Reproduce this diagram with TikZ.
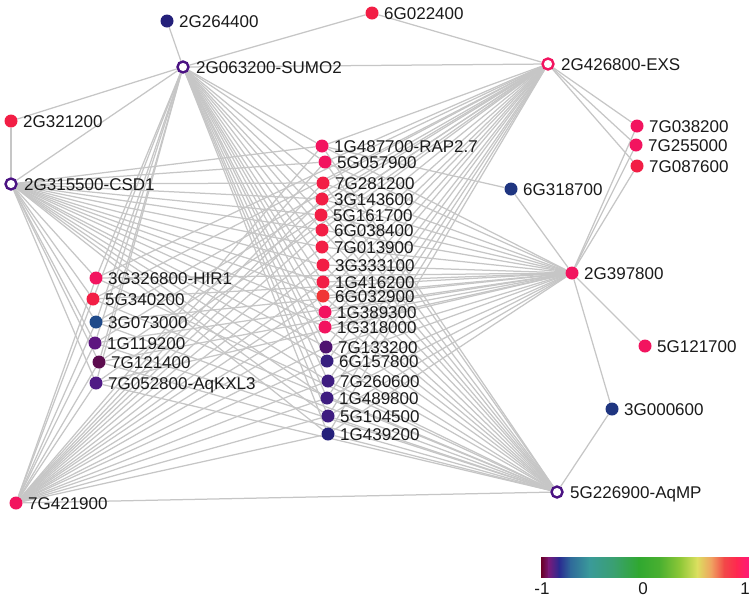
\documentclass[tikz,border=0pt]{standalone}
\usepackage{fontspec}
\setmainfont{Liberation Sans}
\usetikzlibrary{calc}
\pgfdeclarelayer{bg}
\pgfsetlayers{bg,main}
\definecolor{edgegray}{HTML}{C6C6C6}
\definecolor{txt}{HTML}{1A1A1A}
\definecolor{cred}{HTML}{F21E45}
\definecolor{cpink}{HTML}{F2145F}
\definecolor{corange}{HTML}{F03535}
\definecolor{cnavy}{HTML}{24207A}
\definecolor{cnavyb}{HTML}{1F3580}
\definecolor{cblue}{HTML}{1F4A8A}
\definecolor{cpurA}{HTML}{5E1680}
\definecolor{cmaroon}{HTML}{5C0C4E}
\definecolor{cpurB}{HTML}{501A85}
\definecolor{cpurC}{HTML}{4E1470}
\definecolor{cindA}{HTML}{361E7E}
\definecolor{cindB}{HTML}{3E1C80}
\definecolor{cring}{HTML}{4A1282}
% colour bar stops
\definecolor{cb0}{HTML}{6B0028}
\definecolor{cb1}{HTML}{7A1A7A}
\definecolor{cb2}{HTML}{2A2A90}
\definecolor{cb3}{HTML}{2F6A9A}
\definecolor{cb4}{HTML}{3A9A9A}
\definecolor{cb5}{HTML}{3AA070}
\definecolor{cb6}{HTML}{30A830}
\definecolor{cb7}{HTML}{4AB030}
\definecolor{cb8}{HTML}{90C838}
\definecolor{cb9}{HTML}{DCE060}
\definecolor{cb10}{HTML}{F0A060}
\definecolor{cb11}{HTML}{F24848}
\definecolor{cb12}{HTML}{FF2850}
\definecolor{cb13}{HTML}{FF1878}
\tikzset{
  edge/.style={draw=edgegray, line width=1.25pt},
  dot/.style={circle, fill=#1, minimum size=13pt, inner sep=0pt},
  ring/.style={circle, draw=#1, line width=2.4pt, fill=white, minimum size=11pt, inner sep=0pt},
  lab/.style={anchor=west, inner sep=0pt, text=txt, font=\fontsize{17}{17}\selectfont, text height=12.2pt, text depth=0pt},
  tick/.style={anchor=center, inner sep=0pt, text=txt, font=\fontsize{17}{17}\selectfont}
}
\newcommand{\gdot}[5]{\node[dot=#4] (#1) at (#2,#3) {}; \node[lab] (#1-t) at (#2+12,#3) {#5};}
\newcommand{\gring}[5]{\node[ring=#4] (#1) at (#2,#3) {}; \node[lab] (#1-t) at (#2+13,#3) {#5};}
\begin{document}
\begin{tikzpicture}[x=1pt,y=-1pt]
\useasboundingbox (0,0) rectangle (749,598);
% hubs
\gring{SUMO}{183}{67}{cring}{2G063200-SUMO2}
\gring{EXS}{548}{64}{cpink}{2G426800-EXS}
\gring{CSD}{11}{184}{cring}{2G315500-CSD1}
\gdot{nA397800}{572}{273}{cpink}{2G397800}
\gring{AQMP}{557}{492}{cring}{5G226900-AqMP}
\gdot{nA421900}{16}{503}{cpink}{7G421900}
% peripheral
\gdot{n2G264400}{167}{21}{cnavy}{2G264400}
\gdot{n6G022400}{372}{13}{cred}{6G022400}
\gdot{n2G321200}{11}{121}{cred}{2G321200}
\gdot{n7G038200}{637}{126}{cpink}{7G038200}
\gdot{n7G255000}{636}{145}{cpink}{7G255000}
\gdot{n7G087600}{637}{166}{cred}{7G087600}
\gdot{n6G318700}{511}{189}{cnavyb}{6G318700}
\gdot{n5G121700}{645}{346}{cpink}{5G121700}
\gdot{n3G000600}{612}{409}{cnavyb}{3G000600}
% left column
\gdot{HIR}{96}{278}{cpink}{3G326800-HIR1}
\gdot{n5G340200}{93}{299}{cred}{5G340200}
\gdot{n3G073000}{96}{322}{cblue}{3G073000}
\gdot{n1G119200}{95}{343}{cpurA}{1G119200}
\gdot{n7G121400}{99}{362}{cmaroon}{7G121400}
\gdot{KXL}{96}{383}{cpurB}{7G052800-AqKXL3}
% middle column
\gdot{RAP}{322}{146}{cpink}{1G487700-RAP2.7}
\gdot{n5G057900}{325}{162}{cpink}{5G057900}
\gdot{n7G281200}{323}{183}{cred}{7G281200}
\gdot{n3G143600}{322}{199}{cred}{3G143600}
\gdot{n5G161700}{321}{215}{cred}{5G161700}
\gdot{n6G038400}{322}{230}{cred}{6G038400}
\gdot{n7G013900}{322}{247}{cred}{7G013900}
\gdot{n3G333100}{323}{265}{cred}{3G333100}
\gdot{n1G416200}{323}{282}{cred}{1G416200}
\gdot{n6G032900}{323}{296}{corange}{6G032900}
\gdot{n1G389300}{325}{312}{cpink}{1G389300}
\gdot{n1G318000}{325}{327}{cpink}{1G318000}
\gdot{n7G133200}{326}{347}{cpurC}{7G133200}
\gdot{n6G157800}{327}{361}{cindA}{6G157800}
\gdot{n7G260600}{328}{381}{cindB}{7G260600}
\gdot{n1G489800}{327}{398}{cindB}{1G489800}
\gdot{n5G104500}{328}{416}{cindB}{5G104500}
\gdot{n1G439200}{328}{434}{cnavy}{1G439200}
% edges
\begin{pgfonlayer}{bg}
\foreach \h in {SUMO,EXS,CSD,nA397800,AQMP,nA421900}{
  \foreach \t in {HIR,n5G340200,n3G073000,n1G119200,n7G121400,KXL,RAP,n5G057900,n7G281200,n3G143600,n5G161700,n6G038400,n7G013900,n3G333100,n1G416200,n6G032900,n1G389300,n1G318000,n7G133200,n6G157800,n7G260600,n1G489800,n5G104500,n1G439200}{
    \draw[edge] (\h) -- (\t);
  }
}
\foreach \a/\b in {SUMO/EXS,SUMO/CSD,SUMO/n2G321200,n2G321200/CSD,SUMO/n2G264400,SUMO/n6G022400,n6G022400/EXS,EXS/n7G038200,EXS/n7G255000,EXS/n7G087600,nA397800/n7G038200,nA397800/n7G255000,nA397800/n7G087600,nA397800/n6G318700,RAP/n6G318700,nA397800/n5G121700,nA397800/n3G000600,n3G000600/AQMP,nA421900/AQMP}{
  \draw[edge] (\a) -- (\b);
}
\end{pgfonlayer}
% colour bar
\foreach \ta/\tb/\ca/\cc in {0/0.035/cb0/cb1,0.035/0.085/cb1/cb2,0.085/0.14/cb2/cb3,0.14/0.23/cb3/cb4,0.23/0.35/cb4/cb5,0.35/0.47/cb5/cb6,0.47/0.57/cb6/cb7,0.57/0.67/cb7/cb8,0.67/0.75/cb8/cb9,0.75/0.82/cb9/cb10,0.82/0.88/cb10/cb11,0.88/0.94/cb11/cb12,0.94/1.0/cb12/cb13}{
  \shade[left color=\ca, right color=\cc] ({541.5+207.5*\ta-0.3},557) rectangle ({541.5+207.5*\tb+0.3},577);
}
\node[tick] (tm1) at (542,589) {-1};
\node[tick] (t0) at (643,589) {0};
\node[tick] (tp1) at (745,589) {1};
\end{tikzpicture}
\end{document}
